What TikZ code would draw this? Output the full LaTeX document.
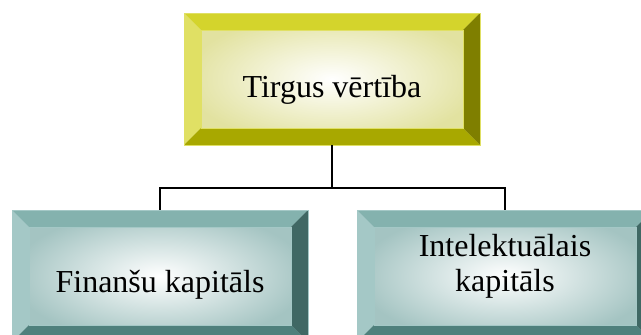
\documentclass[tikz,border=0pt]{standalone}
\usepackage{fontspec}
\setmainfont{Liberation Serif}

\definecolor{olvface}{HTML}{E2E2A0}
\definecolor{olvtop}{HTML}{D4D42C}
\definecolor{olvleft}{HTML}{E0E064}
\definecolor{olvright}{HTML}{7F7F00}
\definecolor{olvbottom}{HTML}{A8A800}
\definecolor{tealface}{HTML}{A4C4C2}
\definecolor{tealtop}{HTML}{84B2AE}
\definecolor{tealleft}{HTML}{A4C8C6}
\definecolor{tealright}{HTML}{406864}
\definecolor{tealbottom}{HTML}{4F807C}

\tikzset{
  bevelbox/.style n args={5}{% face, top, left, right, bottom
    minimum width=296pt, minimum height=132pt, inner sep=0pt,
    inner color=white, outer color=#1, draw=#3, line width=0.5pt,
    font=\fontsize{32}{35}\selectfont, align=center,
    path picture={
      \fill[#2] (path picture bounding box.north west) -- (path picture bounding box.north east)
        -- ([shift={(-17pt,-17pt)}]path picture bounding box.north east)
        -- ([shift={(17pt,-17pt)}]path picture bounding box.north west) -- cycle;
      \fill[#3] (path picture bounding box.north west) -- (path picture bounding box.south west)
        -- ([shift={(17pt,17pt)}]path picture bounding box.south west)
        -- ([shift={(17pt,-17pt)}]path picture bounding box.north west) -- cycle;
      \fill[#4] (path picture bounding box.north east) -- (path picture bounding box.south east)
        -- ([shift={(-17pt,17pt)}]path picture bounding box.south east)
        -- ([shift={(-17pt,-17pt)}]path picture bounding box.north east) -- cycle;
      \fill[#5] (path picture bounding box.south west) -- (path picture bounding box.south east)
        -- ([shift={(-17pt,17pt)}]path picture bounding box.south east)
        -- ([shift={(17pt,17pt)}]path picture bounding box.south west) -- cycle;
      \draw[#3, line width=0.5pt] ([shift={(17pt,-17pt)}]path picture bounding box.north west)
        rectangle ([shift={(-17pt,17pt)}]path picture bounding box.south east);
    }},
  olivebox/.style={bevelbox={olvface}{olvtop}{olvleft}{olvright}{olvbottom}},
  tealbox/.style={bevelbox={tealface}{tealtop}{tealleft}{tealright}{tealbottom}},
  link/.style={draw=black, line width=1.6pt},
}

\begin{document}
\begin{tikzpicture}[x=1pt, y=-1pt]
  \useasboundingbox (0,0) rectangle (641,335);
  \clip (0,0) rectangle (641,335);
  \node[olivebox, text height=36pt, text depth=0pt] (top) at (332,79) {Tirgus vērtība};
  \node[tealbox, text height=32pt, text depth=0pt] (fin) at (160,276) {Finanšu kapitāls};
  \node[tealbox, text height=30pt, text depth=0pt] (intel) at (505,276) {Intelektuālais\\kapitāls};
  \coordinate (fork) at (332,188);
  \draw[link] (top.south) -- (fork);
  \draw[link] (fork) -| (fin.north);
  \draw[link] (fork) -| (intel.north);
\end{tikzpicture}
\end{document}
